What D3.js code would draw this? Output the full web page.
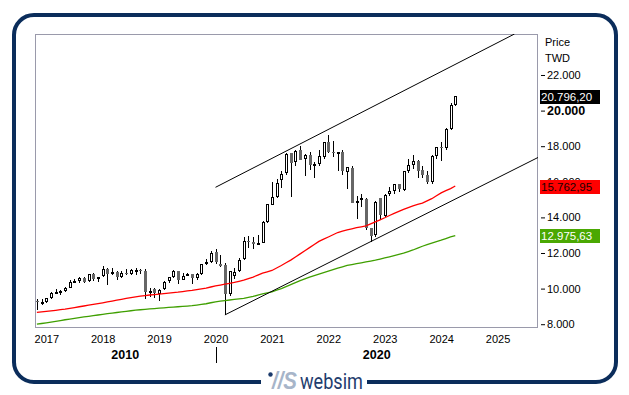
<!DOCTYPE html>
<html><head><meta charset="utf-8">
<script src="https://cdn.jsdelivr.net/npm/d3@7"></script>
<style>html,body{margin:0;padding:0;background:#fff;}svg{display:block;font-family:"Liberation Sans",Arial,sans-serif;}</style>
</head><body><svg id="c" width="629" height="395"></svg>
<script>
const months = ["2016-11","2016-12",
"2017-01","2017-02","2017-03","2017-04","2017-05","2017-06","2017-07","2017-08","2017-09","2017-10","2017-11","2017-12",
"2018-01","2018-02","2018-03","2018-04","2018-05","2018-06","2018-07","2018-08","2018-09","2018-10","2018-11","2018-12",
"2019-01","2019-02","2019-03","2019-04","2019-05","2019-06","2019-07","2019-08","2019-09","2019-10","2019-11","2019-12",
"2020-01","2020-02","2020-03","2020-04","2020-05","2020-06","2020-07","2020-08","2020-09","2020-10","2020-11","2020-12",
"2021-01","2021-02","2021-03","2021-04","2021-05","2021-06","2021-07","2021-08","2021-09","2021-10","2021-11","2021-12",
"2022-01","2022-02","2022-03","2022-04","2022-05","2022-06","2022-07","2022-08","2022-09","2022-10","2022-11","2022-12",
"2023-01","2023-02","2023-03","2023-04","2023-05","2023-06","2023-07","2023-08","2023-09","2023-10","2023-11","2023-12",
"2024-01","2024-02","2024-03","2024-04"];
const open = [9290,9240,
9273,9448,9770,9800,9880,10060,10390,10440,10600,10400,10810,10560,
10700,11080,10840,10950,10650,10900,10840,11050,11070,11000,9780,10000,
9720,9960,10400,10650,10980,10500,10760,10800,10600,10840,11380,11500,
12070,11400,11300,9700,10700,11000,11650,12690,12600,12540,12580,13740,
14720,15150,16100,16470,17600,17100,17760,17300,17500,16900,17000,17400,
18250,17700,17600,17700,16550,16800,14800,14960,15050,13400,13000,15100,
14100,15300,15500,15860,15560,16600,16940,17180,16680,16380,16000,17440,
17960,17890,18970,20320];
const high = [9400,9400,
9463,9800,9960,9940,10100,10480,10520,10650,10630,10830,10860,10680,
11270,11170,11130,11000,11000,11100,11110,11130,11110,11090,10040,10050,
10000,10400,10660,11020,10990,10860,10900,10830,10900,11380,11680,12100,
12200,11900,11460,11000,11160,11720,12890,12940,12910,13030,13800,14760,
16000,16130,16580,17600,17640,17790,18030,17580,17650,17100,17800,18250,
18620,18300,17700,17800,16800,16900,15200,15300,15100,13400,14900,15100,
15300,15700,15870,15900,16600,17300,17500,17200,16900,16600,17500,17950,
18220,19000,20400,20830];
const low = [8800,9080,
9208,9434,9700,9650,9800,10040,10300,10300,10300,10380,10440,10370,
10660,10190,10750,10470,10600,10780,10760,10790,10810,9400,9520,9480,
9320,9930,10300,10600,10250,10470,10700,10280,10500,10780,11300,11430,
11400,11200,8523,9600,10560,10950,11600,12300,12200,12500,12560,13700,
14700,15100,15640,16400,15160,16860,17200,16340,16650,16230,16900,17300,
17600,17400,16600,16400,15600,14800,13900,14600,13300,12629,12900,13900,
14000,15200,15300,15400,15500,16500,16700,16200,16200,15900,15900,17300,
17170,17800,18900,20250];
const close = [9240,9254,
9448,9750,9812,9872,10041,10395,10427,10585,10384,10793,10560,10643,
11104,10815,10919,10658,10875,10837,11057,11063,11006,9802,9888,9727,
9932,10389,10641,10967,10498,10730,10823,10618,10829,11358,11489,11997,
11495,11292,9708,10992,10942,11621,12665,12592,12516,12546,13723,14733,
15139,15953,16431,17567,17068,17755,17247,17490,16935,16987,17428,18219,
17674,17652,17693,16592,16807,14826,14930,15095,13425,12949,14880,14138,
15265,15504,15868,15579,16579,16916,17146,16634,16354,16001,17434,17931,
17890,18967,20294,20796];
const maRed = [8660,8690,
8720,8750,8783,8817,8850,8893,8937,8980,9023,9067,9110,9157,
9203,9250,9300,9350,9400,9447,9493,9540,9573,9607,9640,9667,
9693,9720,9747,9773,9800,9833,9867,9900,9943,9987,10030,10090,
10150,10200,10250,10300,10350,10410,10470,10560,10650,10760,10870,10945,
11020,11160,11300,11450,11600,11775,11950,12125,12300,12475,12650,12775,
12900,13025,13150,13225,13300,13360,13420,13470,13520,13635,13750,13865,
13980,14105,14230,14340,14450,14550,14650,14725,14800,14925,15050,15215,
15380,15500,15620,15763];
const maGreen = [8000,8040,
8080,8120,8163,8207,8250,8290,8330,8370,8407,8443,8480,8517,
8553,8590,8623,8657,8690,8723,8757,8790,8813,8837,8860,8880,
8900,8920,8940,8960,8980,9000,9020,9040,9077,9113,9150,9205,
9260,9295,9330,9360,9390,9420,9450,9505,9560,9630,9700,9760,
9820,9910,10000,10110,10220,10335,10450,10550,10650,10735,10820,10900,
10980,11065,11150,11225,11300,11350,11400,11450,11500,11550,11600,11660,
11720,11785,11850,11920,11990,12080,12170,12275,12380,12470,12560,12640,
12720,12810,12900,12976];
const yearTicks = ["2017","2018","2019","2020","2021","2022","2023","2024","2025"];
const decadeLabels = ["2010","2020"];
const yTickValues = [8000,10000,12000,14000,16000,18000,20000,22000];
const yTickLabels = ["8.000","10.000","12.000","14.000","16.000","18.000","20.000","22.000"];
const trendUpper = [{d:"2020-01", v:15691},{d:"2025-05", v:24303}];
const trendLower = [{d:"2020-03", v:8523},{d:"2025-09", v:17393}];
const lastLabels = [
  {text:"20.796,20", v:20796.20, bg:"#000000", fg:"#ffffff"},
  {text:"15.762,95", v:15762.95, bg:"#ff0000", fg:"#1a0000"},
  {text:"12.975,63", v:12975.63, bg:"#4aa802", fg:"#ffffff"}
];

const mIdx = s => { const [Y,M] = s.split("-").map(Number); return (Y-2016)*12 + (M-1); };
const L = 35, R = 538, T = 34, B = 328;
const svg = d3.select("#c");
const x = d3.scaleLinear().domain([9.6, 116.6]).range([L, R]);
const y = d3.scaleLinear().domain([7787, 24303]).range([B, T]);

// outer frame
svg.append("rect").attr("x",14).attr("y",15).attr("width",602).attr("height",367)
  .attr("rx",20).attr("fill","#fff").attr("stroke","#0b2d5b").attr("stroke-width",4);

// plot frame
svg.append("defs").append("clipPath").attr("id","clip").append("rect")
  .attr("x",L).attr("y",T).attr("width",R-L).attr("height",B-T);
svg.append("rect").attr("x",L+0.5).attr("y",T+0.5).attr("width",R-L-1).attr("height",B-T-1)
  .attr("fill","none").attr("stroke","#9a9aab").attr("stroke-width",1);

const g = svg.append("g").attr("clip-path","url(#clip)");

// candles
const data = months.map((m,i)=>({m:mIdx(m), o:open[i], h:high[i], l:low[i], c:close[i]}));
data.forEach(d=>{
  const px = Math.round(x(d.m));
  g.append("line").attr("x1",px+0.5).attr("x2",px+0.5)
    .attr("y1",Math.round(y(d.h))).attr("y2",Math.round(y(d.l)))
    .attr("stroke","#000").attr("stroke-width",1);
  const yt = Math.round(y(Math.max(d.o,d.c))), yb = Math.round(y(Math.min(d.o,d.c)));
  if (d.c >= d.o) {
    g.append("rect").attr("x",px-0.5).attr("y",yt+0.5).attr("width",2).attr("height",Math.max(1,yb-yt-1))
      .attr("fill","#fff").attr("stroke","#000").attr("stroke-width",1);
  } else {
    g.append("rect").attr("x",px-1).attr("y",yt).attr("width",3).attr("height",Math.max(1,yb-yt))
      .attr("fill","#666");
  }
});

// moving averages
const line = d3.line().x((d,i)=>x(mIdx(months[i]))).y(d=>y(d));
g.append("path").datum(maGreen).attr("d",line).attr("fill","none").attr("stroke","#3f9f00").attr("stroke-width",1.3);
g.append("path").datum(maRed).attr("d",line).attr("fill","none").attr("stroke","#ff0000").attr("stroke-width",1.3);

// trend lines
const tl = d3.line().x(d=>x(mIdx(d.d)) + (d.d==="2025-05"? -0.4*4.7:0) + (d.d==="2025-09"? 0.8*4.7:0)).y(d=>y(d.v));
g.append("path").datum(trendUpper).attr("d",tl).attr("fill","none").attr("stroke","#000").attr("stroke-width",1);
g.append("path").datum(trendLower).attr("d",tl).attr("fill","none").attr("stroke","#000").attr("stroke-width",1);

// y axis
const ya = svg.append("g").attr("transform","translate(541,0)")
  .call(d3.axisRight(y).tickValues(yTickValues).tickFormat((d,i)=>yTickLabels[i]).tickSize(4).tickPadding(2));
ya.select(".domain").remove();
ya.selectAll("line").attr("stroke","#000");
ya.selectAll("text").attr("font-size",11).attr("fill","#000").attr("font-family","Liberation Sans, Arial, sans-serif");
ya.selectAll(".tick").filter(d=>d===20000).select("text").attr("font-size",12.5).attr("font-weight","bold");

svg.append("text").attr("x",545).attr("y",46).attr("font-size",11).text("Price");
svg.append("text").attr("x",545).attr("y",62).attr("font-size",11).text("TWD");

// last value labels
lastLabels.forEach(lb=>{
  const cy = y(lb.v);
  svg.append("rect").attr("x",540).attr("y",Math.round(cy-6.5)).attr("width",60).attr("height",14).attr("fill",lb.bg);
  svg.append("text").attr("x",541).attr("y",Math.round(cy-6.5)+11).attr("font-size",11.5).attr("fill",lb.fg).text(lb.text);
});

// x axis
const xa = svg.append("g").attr("transform",`translate(0,${B})`)
  .call(d3.axisBottom(x).tickValues(yearTicks.map(t=>mIdx(t+"-01"))).tickFormat((d,i)=>yearTicks[i]).tickSize(0).tickPadding(7));
xa.select(".domain").remove();
xa.selectAll("text").attr("font-size",11).attr("fill","#000").attr("font-family","Liberation Sans, Arial, sans-serif");

// decade labels
const xd = x(mIdx("2020-01"));
svg.append("text").attr("x",(L+xd)/2).attr("y",359).attr("text-anchor","middle").attr("font-size",12.5).attr("font-weight","bold").text(decadeLabels[0]);
svg.append("text").attr("x",(xd+R)/2).attr("y",359).attr("text-anchor","middle").attr("font-size",12.5).attr("font-weight","bold").text(decadeLabels[1]);
svg.append("line").attr("x1",Math.round(xd)+0.5).attr("x2",Math.round(xd)+0.5).attr("y1",347).attr("y2",363).attr("stroke","#000");

// logo
svg.append("rect").attr("x",261).attr("y",376).attr("width",106).attr("height",18).attr("fill","#fff");
svg.append("circle").attr("cx",270.5).attr("cy",374.5).attr("r",2.2).attr("fill","#1b3a6b");
svg.append("text").attr("x",272).attr("y",389).attr("font-size",23).attr("font-style","italic").attr("font-weight","bold")
  .attr("fill","#a7b5c9").attr("textLength",25).attr("lengthAdjust","spacingAndGlyphs").text("//S");
svg.append("text").attr("x",300).attr("y",388.5).attr("font-size",22).attr("fill","#1f3d6e")
  .attr("textLength",63).attr("lengthAdjust","spacingAndGlyphs").attr("font-family","Roboto, Liberation Sans, sans-serif").text("websim");
</script></body></html>
